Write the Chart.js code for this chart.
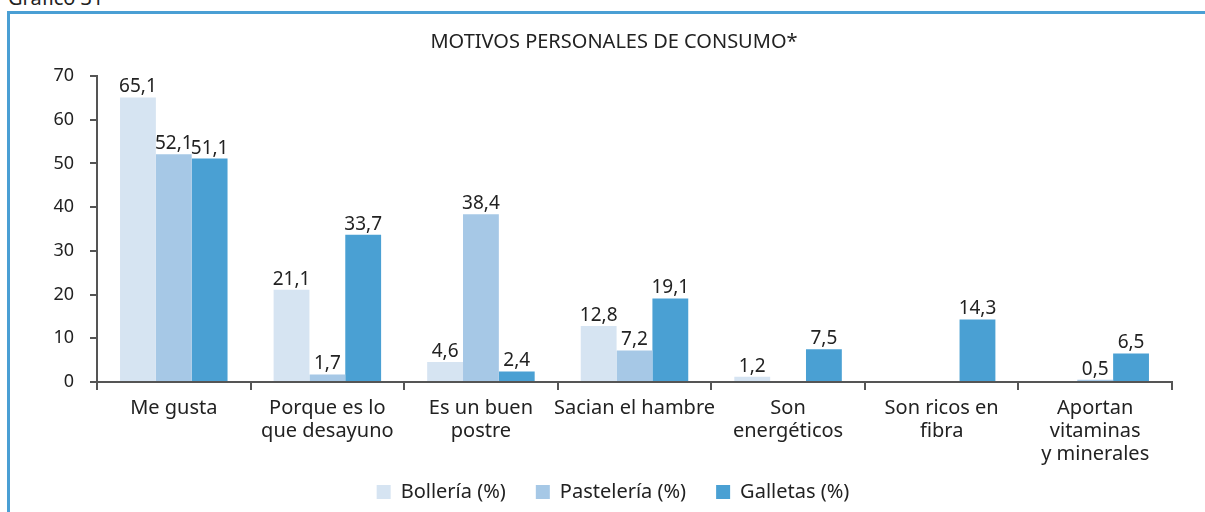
<!DOCTYPE html>
<html>
<head>
<meta charset="utf-8">
<script src="https://cdn.jsdelivr.net/npm/chart.js@4"></script>
<style>
  html, body { margin: 0; padding: 0; background: #fff; }
  body { width: 1205px; height: 512px; position: relative; overflow: hidden; }
  #caption {
    position: absolute; left: 8px; top: -16px;
    font: 20px "Noto Sans", sans-serif; color: #222;
  }
  #frame {
    position: absolute; left: 7px; top: 11px; width: 1210px; height: 520px;
    border-left: 3px solid #4a9fd4; border-top: 3px solid #4a9fd4;
  }
  #wrap { position: absolute; left: 0; top: 0; width: 1205px; height: 512px; }
</style>
</head>
<body>
<div id="caption">Gráfico 31</div>
<div id="frame"></div>
<div id="wrap"><canvas id="motivosChart"></canvas></div>
<script>
// categories and series (percentages)
const categories = [
  "Me gusta",
  ["Porque es lo", "que desayuno"],
  ["Es un buen", "postre"],
  "Sacian el hambre",
  ["Son", "energéticos"],
  ["Son ricos en", "fibra"],
  ["Aportan", "vitaminas", "y minerales"],
];
const bolleria = [65.1, 21.1, 4.6, 12.8, 1.2, null, null];
const pasteleria = [52.1, 1.7, 38.4, 7.2, null, null, 0.5];
const galletas = [51.1, 33.7, 2.4, 19.1, 7.5, 14.3, 6.5];
const yTicks = [0, 10, 20, 30, 40, 50, 60, 70];

const FONT = "Noto Sans";
const TEXT = "#222";
const AXIS = "#555";
const TITLE = "MOTIVOS PERSONALES DE CONSUMO*";

// value labels above each bar, decimal comma
const barValues = {
  id: "barValues",
  afterDatasetsDraw(chart) {
    const ctx = chart.ctx;
    ctx.save();
    ctx.font = "19px " + FONT;
    ctx.fillStyle = TEXT;
    ctx.textAlign = "center";
    ctx.textBaseline = "bottom";
    chart.data.datasets.forEach((ds, i) => {
      chart.getDatasetMeta(i).data.forEach((bar, j) => {
        const v = ds.data[j];
        if (v == null) return;
        ctx.fillText(v.toFixed(1).replace(".", ","), bar.x, bar.y - 1);
      });
    });
    ctx.restore();
  },
};

// title centred on the frame, legend row along the bottom
const frameText = {
  id: "frameText",
  afterDraw(chart) {
    const ctx = chart.ctx;
    ctx.save();
    ctx.fillStyle = TEXT;
    ctx.textBaseline = "middle";
    ctx.textAlign = "center";
    ctx.font = "20px " + FONT;
    ctx.fillText(TITLE, 614, 42);

    ctx.font = "20px " + FONT;
    ctx.textAlign = "left";
    const box = 14, gap = 10, spacing = 30;
    const items = chart.data.datasets.map((ds) => ({
      text: ds.label,
      color: ds.backgroundColor,
      w: box + gap + ctx.measureText(ds.label).width,
    }));
    const total = items.reduce((s, it) => s + it.w, 0) + spacing * (items.length - 1);
    let x = 613 - total / 2;
    const y = 492;
    items.forEach((it) => {
      ctx.fillStyle = it.color;
      ctx.fillRect(x, y - box / 2, box, box);
      ctx.fillStyle = TEXT;
      ctx.fillText(it.text, x + box + gap, y);
      x += it.w + spacing;
    });
    ctx.restore();
  },
};

new Chart(document.getElementById("motivosChart"), {
  type: "bar",
  data: {
    labels: categories,
    datasets: [
      { label: "Bollería (%)", data: bolleria, backgroundColor: "#d6e4f2" },
      { label: "Pastelería (%)", data: pasteleria, backgroundColor: "#a6c8e6" },
      { label: "Galletas (%)", data: galletas, backgroundColor: "#4aa0d3" },
    ],
  },
  options: {
    responsive: true,
    maintainAspectRatio: false,
    animation: false,
    layout: { padding: { left: 0, right: 33, top: 76, bottom: 39 } },
    datasets: { bar: { categoryPercentage: 0.7, barPercentage: 1.0 } },
    plugins: {
      title: { display: false },
      legend: { display: false },
      tooltip: { enabled: false },
    },
    scales: {
      x: {
        grid: {
          offset: true,
          drawOnChartArea: false,
          tickLength: 8,
          color: AXIS,
          lineWidth: 2,
        },
        border: { color: AXIS, width: 2 },
        ticks: {
          color: TEXT,
          font: { family: FONT, size: 20, lineHeight: 1.15 },
          maxRotation: 0,
          autoSkip: false,
          padding: 7,
        },
      },
      y: {
        min: 0,
        max: 70,
        afterFit(scale) { scale.width = 97; },
        afterBuildTicks(scale) { scale.ticks = yTicks.map((v) => ({ value: v })); },
        grid: { drawOnChartArea: false, tickLength: 7, color: AXIS, lineWidth: 2 },
        border: { color: AXIS, width: 2 },
        ticks: { color: TEXT, font: { family: FONT, size: 18 }, padding: 16 },
      },
    },
  },
  plugins: [barValues, frameText],
});
</script>
</body>
</html>
